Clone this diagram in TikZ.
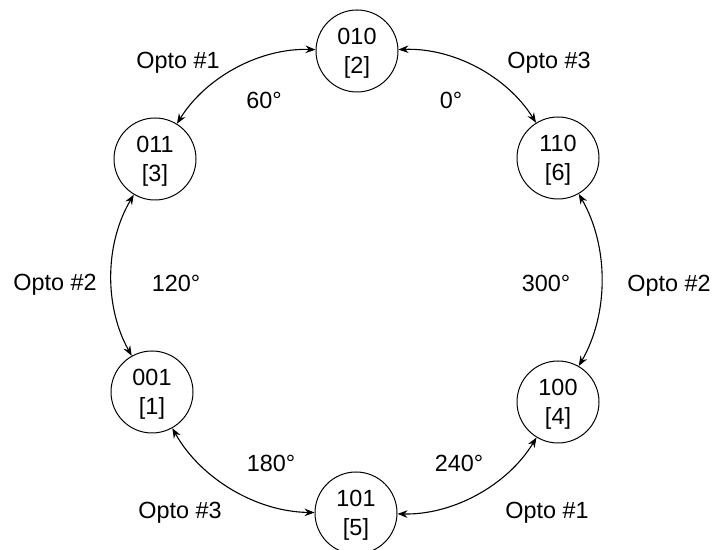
\documentclass[tikz,border=0pt]{standalone}
\usepackage{fontspec}
\setmainfont{Liberation Sans}
\usepackage{tikz}
\usetikzlibrary{arrows.meta}
\tikzset{>={Stealth[length=5pt, width=3.8pt]}}

\begin{document}
\begin{tikzpicture}[x=0.5pt, y=0.5pt, font=\fontsize{11.7}{14.5}\selectfont]
            \tikzset{state/.style = {draw, circle, line width=0.5pt, minimum size=41pt, inner sep=0pt, align=center, text depth=-2pt}}
            \tikzset{lbl/.style = {anchor=base, inner sep=0pt}}
            \useasboundingbox (0, 0) rectangle (713, 550);
            \node[state] (s2) at (357, 499) {010\\{[2]}};
            \node[state] (s6) at (558, 392) {110\\{[6]}};
            \node[state] (s4) at (558, 148) {100\\{[4]}};
            \node[state] (s5) at (356, 37) {101\\{[5]}};
            \node[state] (s1) at (152, 158) {001\\{[1]}};
            \node[state] (s3) at (155, 391) {011\\{[3]}};
            \foreach \a/\b in {s2/s3, s3/s1, s1/s5, s5/s4, s4/s6, s6/s2} {
                \draw[<->, line width=0.55pt] (\a) to[bend right=30, looseness=0.9] (\b);
            }
            \node[lbl] (optoA) at (178, 481.6) {Opto \#1};
            \node[lbl] (deg60) at (264, 441.6) {60°};
            \node[lbl] (optoB) at (549, 481.6) {Opto \#3};
            \node[lbl] (deg0) at (451, 441.6) {0°};
            \node[lbl] (optoC) at (55, 259.6) {Opto \#2};
            \node[lbl] (deg120) at (176, 258.6) {120°};
            \node[lbl] (deg300) at (546, 258.6) {300°};
            \node[lbl] (optoD) at (669, 258.6) {Opto \#2};
            \node[lbl] (deg180) at (271, 78.6) {180°};
            \node[lbl] (deg240) at (459, 78.6) {240°};
            \node[lbl] (optoE) at (180, 31.6) {Opto \#3};
            \node[lbl] (optoF) at (547, 31.6) {Opto \#1};
        \end{tikzpicture}
\end{document}
